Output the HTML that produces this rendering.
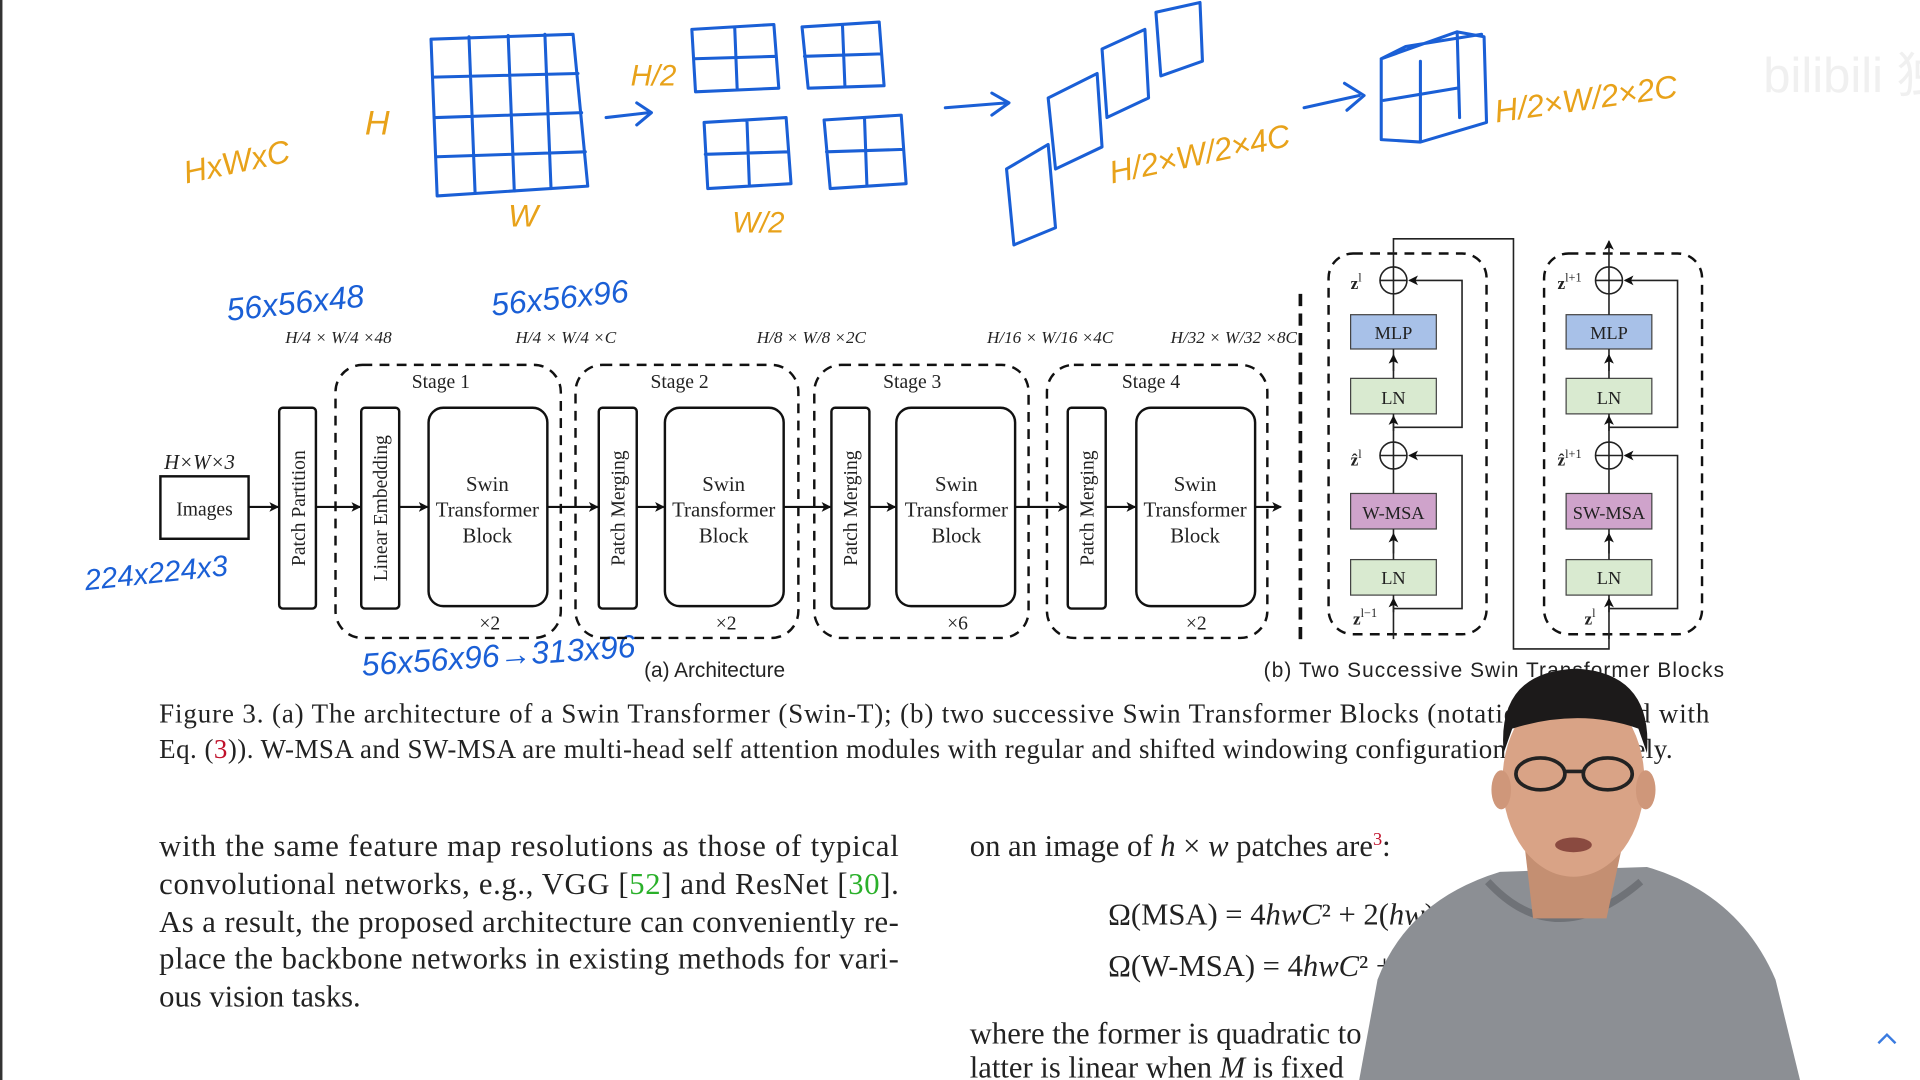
<!DOCTYPE html>
<html><head><meta charset="utf-8"><style>
html,body{margin:0;padding:0;background:#fff;overflow:hidden}
svg{display:block}
.s{font-family:"Liberation Serif",serif;fill:#222}
.a{font-family:"Liberation Sans",sans-serif;fill:#222}
.h{fill:none;stroke-linecap:round;stroke-linejoin:round}
</style></head><body>
<svg width="1920" height="1080" viewBox="0 0 1568 882" xmlns="http://www.w3.org/2000/svg">
<defs>
<marker id="ar" markerWidth="8" markerHeight="8" refX="7" refY="4" orient="auto" markerUnits="userSpaceOnUse"><path d="M0,0 L8,4 L0,8 L2,4z" fill="#111"/></marker>
</defs>
<rect width="1568" height="882" fill="#fff"/>
<rect x="0" y="0" width="2" height="882" fill="#333"/>

<g class="h" stroke="#1a5fd6" stroke-width="2.5">
<path d="M352,32 L468,28 L480,152 L357,160 Z"/>
<path d="M383,30 L388,158 M415,29 L420,156 M445,28 L450,154 M354,63 L472,60 M356,96 L475,92 M357,128 L478,124"/>
<path d="M565,24 L632,20 L636,72 L568,75 Z M600,22 L602,72 M567,48 L634,46"/>
<path d="M655,22 L718,18 L722,70 L660,72 Z M688,20 L690,70 M657,46 L720,44"/>
<path d="M575,100 L642,96 L646,150 L578,154 Z M610,98 L612,152 M576,126 L644,124"/>
<path d="M673,98 L736,94 L740,150 L678,154 Z M706,96 L708,152 M675,124 L738,122"/>
<path d="M495,96 L530,92 M520,84 L532,92 L520,102"/>
<path d="M772,88 L822,84 M810,76 L824,84 L810,94"/>
<path d="M822,138 L856,118 L862,186 L828,200 Z M856,80 L896,60 L900,120 L862,138 Z M900,40 L935,24 L938,80 L904,96 Z M944,10 L980,2 L982,50 L948,62 Z"/>
<path d="M1065,88 L1110,78 M1098,68 L1114,78 L1100,90"/>
<path d="M1128,48 L1190,26 L1212,30 L1214,100 L1160,116 L1128,114 Z M1128,48 L1148,38 L1210,28 M1160,116 L1160,50 M1130,82 L1190,72 M1190,26 L1192,96"/>
</g>
<g font-family="Liberation Sans,sans-serif" font-style="italic">
<text x="152" y="150" font-size="26" fill="#e8a21a" transform="rotate(-12 152 150)">HxWxC</text>
<text x="298" y="110" font-size="28" fill="#e8a21a">H</text>
<text x="515" y="70" font-size="24" fill="#e8a21a">H/2</text>
<text x="598" y="190" font-size="24" fill="#e8a21a">W/2</text>
<text x="415" y="185" font-size="26" fill="#e8a21a">W</text>
<text x="908" y="150" font-size="26" fill="#e8a21a" transform="rotate(-12 908 150)">H/2×W/2×4C</text>
<text x="1222" y="100" font-size="26" fill="#e8a21a" transform="rotate(-8 1222 100)">H/2×W/2×2C</text>
<text x="186" y="262" font-size="26" fill="#1a5fd6" transform="rotate(-6 186 262)">56x56x48</text>
<text x="402" y="258" font-size="26" fill="#1a5fd6" transform="rotate(-6 402 258)">56x56x96</text>
<text x="70" y="482" font-size="24" fill="#1a5fd6" transform="rotate(-6 70 482)">224x224x3</text>
<text x="296" y="552" font-size="26" fill="#1a5fd6" transform="rotate(-4 296 552)">56x56x96→313x96</text>
</g>
<text x="1440" y="75" font-size="40" fill="#f0f0f0" font-family="Liberation Sans,sans-serif">bilibili 独家</text>

<g class="s" font-size="14" font-style="italic">
<text x="233" y="280">H/4 × W/4 ×48</text>
<text x="421" y="280">H/4 × W/4 ×C</text>
<text x="618" y="280">H/8 × W/8 ×2C</text>
<text x="806" y="280">H/16 × W/16 ×4C</text>
<text x="956" y="280">H/32 × W/32 ×8C</text>
<text x="134" y="383" font-size="17">H×W×3</text>
</g>

<g fill="none" stroke="#111" stroke-width="2">
<rect x="131" y="389" width="72" height="51"/>
<rect x="228" y="333" width="30" height="164" rx="3"/>
<g stroke-dasharray="8,6"><rect x="274" y="298" width="184" height="223" rx="22"/><rect x="470" y="298" width="182" height="223" rx="22"/><rect x="665" y="298" width="175" height="223" rx="22"/><rect x="855" y="298" width="180" height="223" rx="22"/></g>
<rect x="295" y="333" width="31" height="164" rx="3"/>
<rect x="350" y="333" width="97" height="162" rx="12"/>
<rect x="489" y="333" width="31" height="164" rx="3"/>
<rect x="543" y="333" width="97" height="162" rx="12"/>
<rect x="679" y="333" width="31" height="164" rx="3"/>
<rect x="732" y="333" width="97" height="162" rx="12"/>
<rect x="872" y="333" width="31" height="164" rx="3"/>
<rect x="928" y="333" width="97" height="162" rx="12"/>
<g marker-end="url(#ar)" stroke-width="1.8">
<path d="M203,414H227"/><path d="M258,414H294"/><path d="M326,414H349"/><path d="M447,414H488"/><path d="M520,414H542"/><path d="M640,414H678"/><path d="M710,414H731"/><path d="M829,414H871"/><path d="M903,414H927"/><path d="M1025,414H1046"/>
</g>
<path d="M1062,240V522" stroke-width="3" stroke-dasharray="10,6"/>
</g>
<g class="s" font-size="16" text-anchor="middle">
<text x="167" y="421">Images</text>
<text x="360" y="317">Stage 1</text><text x="555" y="317">Stage 2</text><text x="745" y="317">Stage 3</text><text x="940" y="317">Stage 4</text>
<text x="400" y="514">×2</text><text x="593" y="514">×2</text><text x="782" y="514">×6</text><text x="977" y="514">×2</text>
<g font-size="17"><text x="398" y="401">Swin</text><text x="398" y="422">Transformer</text><text x="398" y="443">Block</text>
<text x="591" y="401">Swin</text><text x="591" y="422">Transformer</text><text x="591" y="443">Block</text>
<text x="781" y="401">Swin</text><text x="781" y="422">Transformer</text><text x="781" y="443">Block</text>
<text x="976" y="401">Swin</text><text x="976" y="422">Transformer</text><text x="976" y="443">Block</text></g>
<text transform="translate(249,415) rotate(-90)">Patch Partition</text>
<text transform="translate(316,415) rotate(-90)">Linear Embedding</text>
<text transform="translate(510,415) rotate(-90)">Patch Merging</text>
<text transform="translate(700,415) rotate(-90)">Patch Merging</text>
<text transform="translate(893,415) rotate(-90)">Patch Merging</text>
</g>

<g id="blk">
<g fill="none" stroke="#111" stroke-width="2"><rect x="1085" y="207" width="129" height="311" rx="20" stroke-dasharray="8,6"/></g>
<g stroke="#444" stroke-width="1">
<rect x="1103" y="257" width="70" height="28" fill="#a8c1e8"/>
<rect x="1103" y="309" width="70" height="29" fill="#d9ead0"/>
<rect x="1103" y="403" width="70" height="29" fill="#cfa3cb"/>
<rect x="1103" y="457" width="70" height="29" fill="#d9ead0"/>
</g>
<g fill="none" stroke="#222" stroke-width="1.3">
<circle cx="1138" cy="229" r="11"/><circle cx="1138" cy="372" r="11"/>
<path d="M1127,229H1149M1138,218V240M1127,372H1149M1138,361V383"/>
<path d="M1138,240V257M1138,285V309M1138,338V361M1138,383V403M1138,432V457M1138,486V522"/>
<path d="M1138,497H1194V372H1151" marker-end="url(#ar)"/>
<path d="M1138,349H1194V229H1151" marker-end="url(#ar)"/>
<path d="M1138,303V290" marker-end="url(#ar)"/><path d="M1138,352V340" marker-end="url(#ar)"/><path d="M1138,452V436" marker-end="url(#ar)"/><path d="M1138,500V489" marker-end="url(#ar)"/>
</g>
</g>
<use href="#blk" transform="translate(176,0)"/>
<path d="M1138,218V195H1236V530H1314V518" fill="none" stroke="#222" stroke-width="1.3"/>
<path d="M1314,218V197" fill="none" stroke="#222" stroke-width="1.3" marker-end="url(#ar)"/>
<g class="s" font-size="15" text-anchor="middle">
<text x="1138" y="277">MLP</text><text x="1138" y="330">LN</text><text x="1138" y="424">W-MSA</text><text x="1138" y="477">LN</text>
<text x="1314" y="277">MLP</text><text x="1314" y="330">LN</text><text x="1314" y="424">SW-MSA</text><text x="1314" y="477">LN</text>
</g>
<g class="s" font-size="14" font-weight="bold">
<text x="1103" y="236">z<tspan font-size="10" dy="-6" font-weight="normal">l</tspan></text>
<text x="1103" y="380">ẑ<tspan font-size="10" dy="-6" font-weight="normal">l</tspan></text>
<text x="1105" y="510">z<tspan font-size="10" dy="-6" font-weight="normal">l−1</tspan></text>
<text x="1272" y="236">z<tspan font-size="10" dy="-6" font-weight="normal">l+1</tspan></text>
<text x="1272" y="380">ẑ<tspan font-size="10" dy="-6" font-weight="normal">l+1</tspan></text>
<text x="1294" y="510">z<tspan font-size="10" dy="-6" font-weight="normal">l</tspan></text>
</g>
<text class="a" x="526" y="553" font-size="17">(a) Architecture</text>
<text class="a" x="1032" y="553" font-size="17" textLength="376">(b) Two Successive Swin Transformer Blocks</text>

<g class="s" font-size="22">
<text x="130" y="590" textLength="1266" lengthAdjust="spacing">Figure 3. (a) The architecture of a Swin Transformer (Swin-T); (b) two successive Swin Transformer Blocks (notation presented with</text>
<text x="130" y="619" textLength="1236" lengthAdjust="spacing">Eq. (<tspan fill="#c0102a">3</tspan>)). W-MSA and SW-MSA are multi-head self attention modules with regular and shifted windowing configurations, respectively.</text>
<g font-size="25">
<text x="130" y="699" textLength="604" lengthAdjust="spacing">with the same feature map resolutions as those of typical</text>
<text x="130" y="730" textLength="604" lengthAdjust="spacing">convolutional networks, e.g., VGG [<tspan fill="#2ab02a">52</tspan>] and ResNet [<tspan fill="#2ab02a">30</tspan>].</text>
<text x="130" y="761" textLength="604" lengthAdjust="spacing">As a result, the proposed architecture can conveniently re-</text>
<text x="130" y="791" textLength="604" lengthAdjust="spacing">place the backbone networks in existing methods for vari-</text>
<text x="130" y="822">ous vision tasks.</text>
<text x="792" y="699">on an image of <tspan font-style="italic">h</tspan> × <tspan font-style="italic">w</tspan> patches are<tspan fill="#c0102a" font-size="15" dy="-9">3</tspan><tspan dy="9">:</tspan></text>
<text x="905" y="755">Ω(MSA) = 4<tspan font-style="italic">hwC</tspan>² + 2(<tspan font-style="italic">hw</tspan>)²<tspan font-style="italic">C</tspan>,</text>
<text x="905" y="797">Ω(W-MSA) = 4<tspan font-style="italic">hwC</tspan>² + 2<tspan font-style="italic">M</tspan>²<tspan font-style="italic">hwC</tspan>,</text>
<text x="792" y="852">where the former is quadratic to patch number hw, and the</text>
<text x="792" y="880">latter is linear when <tspan font-style="italic">M</tspan> is fixed</text>
</g>
</g>

<g>
<path d="M1110,882 L1125,800 Q1150,735 1225,712 L1345,708 Q1420,730 1450,800 L1470,882 Z" fill="#8c8f94"/>
<path d="M1215,720 Q1270,780 1340,720" fill="none" stroke="#6f7277" stroke-width="6"/>
<path d="M1245,690 L1252,750 L1312,750 L1325,690 Z" fill="#c48f72"/>
<ellipse cx="1285" cy="638" rx="58" ry="78" fill="#d9a386"/>
<path d="M1228,615 Q1222,548 1288,546 Q1350,550 1345,615 L1338,595 Q1290,578 1235,595 Z" fill="#1c1a1a"/>
<g fill="none" stroke="#222" stroke-width="3"><ellipse cx="1258" cy="632" rx="20" ry="13"/><ellipse cx="1313" cy="632" rx="20" ry="13"/><path d="M1278,630H1293"/></g>
<ellipse cx="1285" cy="690" rx="15" ry="6" fill="#8a4a40"/>
<ellipse cx="1226" cy="645" rx="8" ry="16" fill="#cf977a"/><ellipse cx="1344" cy="645" rx="8" ry="16" fill="#cf977a"/>
</g>
<path d="M1534,852 L1541,845 L1548,852" fill="none" stroke="#3a7be0" stroke-width="2"/>
</svg>
</body></html>
